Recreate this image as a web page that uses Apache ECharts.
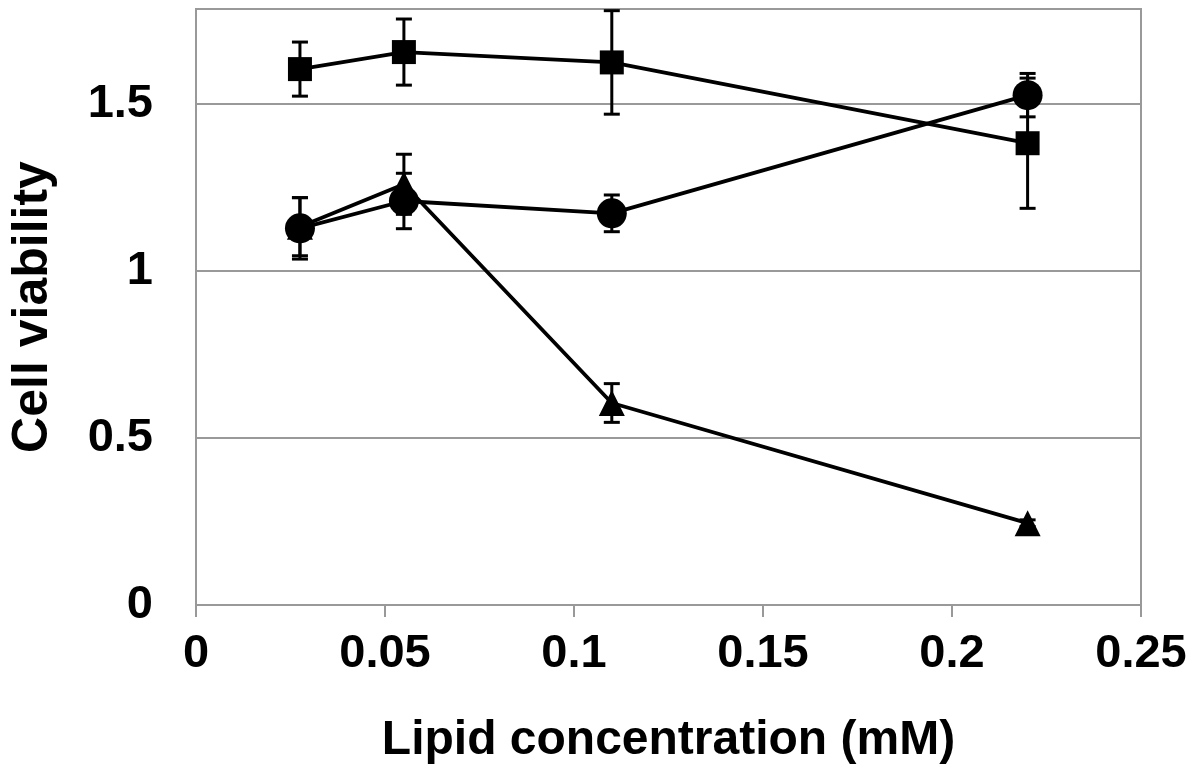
<!DOCTYPE html>
<html>
<head>
<meta charset="utf-8">
<script src="https://cdn.jsdelivr.net/npm/echarts@6/dist/echarts.min.js"></script>
<style>html,body{margin:0;padding:0;background:#fff;}#c{width:1200px;height:774px;}</style>
</head>
<body>
<div id="c"></div>
<script>
const xVals = [0.0275, 0.055, 0.11, 0.22];
const squareMean = [1.605, 1.656, 1.625, 1.383];
const squareErr = [0.081, 0.099, 0.155, 0.195];
const circleMean = [1.128, 1.21, 1.173, 1.527];
const circleErr = [0.092, 0.083, 0.055, 0.065];
const triangleMean = [1.133, 1.26, 0.605, 0.245];
const triangleErr = [0.087, 0.09, 0.058, 0.01];
const yTicks = [0, 0.5, 1, 1.5];
const xTicks = [0, 0.05, 0.1, 0.15, 0.2, 0.25];
const xTitle = 'Lipid concentration (mM)';
const yTitle = 'Cell viability';

const FONT = 'Liberation Sans, Arial, sans-serif';

function pts(mean) { return xVals.map((x, i) => [x, mean[i]]); }
function errData(mean, err) { return xVals.map((x, i) => [x, mean[i] - err[i], mean[i] + err[i]]); }

function errSeries(mean, err, z) {
  return {
    type: 'custom',
    data: errData(mean, err),
    encode: { x: 0, y: [1, 2] },
    clip: false,
    z: z,
    silent: true,
    renderItem: function (params, api) {
      const x = api.value(0), lo = api.value(1), hi = api.value(2);
      const a = api.coord([x, lo]), b = api.coord([x, hi]);
      const w = 8;
      const st = { stroke: '#000', lineWidth: 3 };
      return {
        type: 'group',
        children: [
          { type: 'line', shape: { x1: a[0], y1: a[1], x2: b[0], y2: b[1] }, style: st },
          { type: 'line', shape: { x1: a[0] - w, y1: a[1], x2: a[0] + w, y2: a[1] }, style: st },
          { type: 'line', shape: { x1: b[0] - w, y1: b[1], x2: b[0] + w, y2: b[1] }, style: st }
        ]
      };
    }
  };
}

function lineSeries(mean, symbol, size, z) {
  return {
    type: 'line',
    data: pts(mean),
    symbol: symbol,
    symbolSize: size,
    showAllSymbol: true,
    lineStyle: { color: '#000', width: 3.8 },
    itemStyle: { color: '#000', borderWidth: 0 },
    z: z,
    silent: true,
    animation: false
  };
}

const chart = echarts.init(document.getElementById('c'));
chart.setOption({
  animation: false,
  backgroundColor: '#fff',
  grid: { left: 196, right: 59, top: 9, bottom: 169, show: true, borderColor: '#999', borderWidth: 2, backgroundColor: 'transparent' },
  xAxis: {
    type: 'value', min: 0, max: 0.25, interval: 0.05,
    axisLine: { show: true, lineStyle: { color: '#999', width: 2 } },
    axisTick: { show: true, inside: false, length: 12, lineStyle: { color: '#999', width: 2 } },
    splitLine: { show: false },
    axisLabel: {
      margin: 26, color: '#000', fontFamily: FONT, fontWeight: 'bold', fontSize: 47,
      formatter: v => { const t = xTicks.find(k => Math.abs(k - v) < 1e-9); return t === undefined ? '' : String(t); }
    },
    name: xTitle, nameLocation: 'middle', nameGap: 112,
    nameTextStyle: { color: '#000', fontFamily: FONT, fontWeight: 'bold', fontSize: 48 }
  },
  yAxis: {
    type: 'value', min: 0, max: 1.785, interval: 0.5,
    axisLine: { show: true, lineStyle: { color: '#999', width: 2 } },
    axisTick: { show: false },
    splitLine: { show: true, lineStyle: { color: '#999', width: 2 } },
    axisLabel: {
      margin: 43, color: '#000', fontFamily: FONT, fontWeight: 'bold', fontSize: 47,
      showMaxLabel: false,
      formatter: v => { const t = yTicks.find(k => Math.abs(k - v) < 1e-9); return t === undefined ? '' : String(t); }
    },
    name: yTitle, nameLocation: 'middle', nameGap: 138,
    nameTextStyle: { color: '#000', fontFamily: FONT, fontWeight: 'bold', fontSize: 50 }
  },
  series: [
    errSeries(squareMean, squareErr, 3),
    errSeries(triangleMean, triangleErr, 3),
    errSeries(circleMean, circleErr, 3),
    lineSeries(squareMean, 'rect', 24, 4),
    lineSeries(triangleMean, 'triangle', [26, 26], 5),
    lineSeries(circleMean, 'circle', 30, 6)
  ]
});
</script>
</body>
</html>
